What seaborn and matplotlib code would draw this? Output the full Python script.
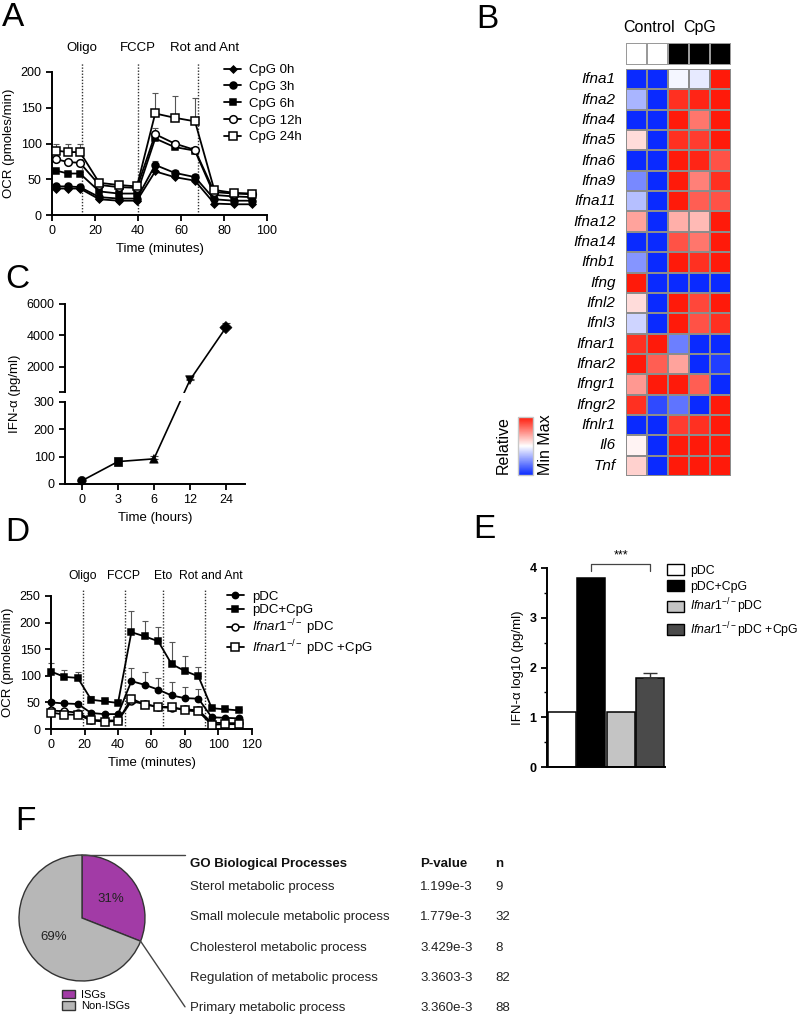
import numpy as np
import pandas as pd
import matplotlib
matplotlib.use('Agg')
import matplotlib.pyplot as plt
import matplotlib.transforms as mtransforms
from matplotlib.colors import LinearSegmentedColormap, ListedColormap
from matplotlib.patches import Patch
from matplotlib.ticker import MultipleLocator
import seaborn as sns

# ---------------- data ----------------
# A: OCR of pDC after CpG for different times
a_time = [2, 7.5, 13, 22, 31, 39.5, 48, 57, 66.5, 75.5, 84.5, 93]
a_names = ['CpG 0h', 'CpG 3h', 'CpG 6h', 'CpG 12h', 'CpG 24h']
a_0h = [37, 37, 37, 22, 20, 20, 61, 53, 48, 16, 15, 15]
a_3h = [40, 40, 39, 25, 23, 23, 70, 59, 53, 22, 20, 20]
a_6h = [62, 58, 58, 33, 30, 30, 107, 95, 90, 28, 26, 25]
a_12h = [78, 74, 73, 42, 39, 38, 113, 100, 91, 32, 30, 29]
a_24h = [90, 88, 88, 45, 42, 40, 142, 136, 131, 35, 31, 30]
a_0h_err = [2, 2, 2, 2, 2, 2, 2, 2, 2, 2, 2, 2]
a_3h_err = [4, 4, 3, 2, 2, 2, 5, 4, 4, 2, 2, 2]
a_6h_err = [2, 2, 2, 2, 2, 2, 3, 3, 3, 2, 2, 2]
a_12h_err = [3, 3, 3, 2, 2, 2, 8, 4, 3, 2, 2, 2]
a_24h_err = [10, 12, 12, 3, 2, 2, 29, 30, 32, 3, 2, 2]
a_inject_time = [14, 40, 68]
a_inject_label = ['Oligo', 'FCCP', 'Rot and Ant']
a_label_time = [14, 40, 71]

# B: relative expression heatmap
b_genes = ['Ifna1', 'Ifna2', 'Ifna4', 'Ifna5', 'Ifna6', 'Ifna9', 'Ifna11', 'Ifna12',
           'Ifna14', 'Ifnb1', 'Ifng', 'Ifnl2', 'Ifnl3', 'Ifnar1', 'Ifnar2', 'Ifngr1',
           'Ifngr2', 'Ifnlr1', 'Il6', 'Tnf']
b_samples = ['Control 1', 'Control 2', 'CpG 1', 'CpG 2', 'CpG 3']
b_group = [0, 0, 1, 1, 1]
b_values = [
    [-1.0, -1.0, -0.04, -0.1, 1.0],
    [-0.35, -1.0, 0.9, 0.95, 1.0],
    [-1.0, -1.0, 1.0, 0.6, 1.0],
    [0.15, -1.0, 0.9, 0.85, 1.0],
    [-1.0, -1.0, 1.0, 0.95, 0.75],
    [-0.55, -1.0, 1.0, 0.55, 0.9],
    [-0.3, -1.0, 1.0, 0.7, 0.75],
    [0.4, -1.0, 0.35, 0.3, 1.0],
    [-1.0, -1.0, 0.75, 0.6, 1.0],
    [-0.5, -1.0, 1.0, 0.9, 1.0],
    [1.0, -1.0, -1.0, -1.0, -1.0],
    [0.15, -1.0, 1.0, 0.8, 1.0],
    [-0.2, -1.0, 1.0, 0.75, 0.9],
    [0.9, 1.0, -0.6, -1.0, -1.0],
    [1.0, 0.7, 0.4, -1.0, -0.9],
    [0.45, 1.0, 1.0, 0.7, -1.0],
    [0.9, -0.85, -0.65, -1.0, 1.0],
    [-1.0, -1.0, 0.85, 0.9, 1.0],
    [0.05, -1.0, 1.0, 1.0, 1.0],
    [0.2, -1.0, 1.0, 1.0, 1.0],
]

# C: IFN-alpha secretion over time
c_hours = ['0', '3', '6', '12', '24']
c_ifn = [12, 82, 92, 1160, 4500]
c_err = [0, 0, 10, 60, 300]

# D: OCR of WT and Ifnar1-/- pDC
d_time = [0, 8, 16, 24, 32, 40, 48, 56, 64, 72, 80, 88, 96, 104, 112]
d_pdc = [50, 48, 47, 30, 28, 28, 90, 83, 74, 63, 58, 57, 22, 21, 20]
d_cpg = [108, 98, 96, 55, 52, 49, 182, 174, 165, 122, 109, 99, 39, 37, 35]
d_ko = [35, 33, 31, 17, 16, 16, 52, 47, 41, 40, 37, 35, 12, 11, 11]
d_ko_cpg = [31, 27, 27, 16, 14, 15, 57, 46, 42, 41, 35, 33, 8, 9, 9]
d_pdc_err = [5, 4, 4, 3, 3, 3, 25, 25, 21, 25, 21, 19, 2, 2, 2]
d_cpg_err = [17, 12, 11, 7, 5, 5, 40, 29, 26, 42, 28, 17, 3, 3, 2]
d_ko_err = [3, 3, 3, 2, 2, 2, 4, 3, 3, 3, 3, 3, 2, 2, 2]
d_ko_cpg_err = [2, 2, 2, 2, 2, 2, 3, 3, 3, 3, 3, 3, 2, 2, 2]
d_inject_time = [19, 44, 67, 92]
d_inject_label = ['Oligo', 'FCCP', 'Eto', 'Rot and Ant']
d_label_time = [19, 43, 67, 95.5]
ko = r'$\mathit{Ifnar1}^{-/-}$'
d_names = ['pDC', 'pDC+CpG', ko + ' pDC', ko + ' pDC +CpG']

# E: IFN-alpha log10
e_groups = ['pDC', 'pDC+CpG', 'Ifnar1 pDC', 'Ifnar1 pDC+CpG']
e_labels = ['pDC', 'pDC+CpG', ko + 'pDC', ko + 'pDC +CpG']
e_vals = [1.1, 3.8, 1.1, 1.78]
e_err = [0, 0, 0, 0.1]
e_colors = ['#ffffff', '#000000', '#c4c4c4', '#4a4a4a']

# F: ISG share and GO terms
f_share = [31, 69]
f_names = ['ISGs', 'Non-ISGs']
f_colors = ['#a23ba6', '#b7b7b7']
f_terms = ['Sterol metabolic process', 'Small molecule metabolic process',
           'Cholesterol metabolic process', 'Regulation of metabolic process',
           'Primary metabolic process']
f_pvalues = ['1.199e-3', '1.779e-3', '3.429e-3', '3.3603-3', '3.360e-3']
f_n = ['9', '32', '8', '82', '88']

# ---------------- style ----------------
sns.set_style('ticks')
plt.rcParams['font.family'] = ['Liberation Sans', 'DejaVu Sans']
plt.rcParams['mathtext.fontset'] = 'custom'
plt.rcParams['mathtext.rm'] = 'Liberation Sans'
plt.rcParams['mathtext.it'] = 'Liberation Sans:italic'
plt.rcParams['mathtext.bf'] = 'Liberation Sans:bold'
plt.rcParams['axes.edgecolor'] = 'black'
plt.rcParams['axes.linewidth'] = 1.4
plt.rcParams['text.color'] = 'black'
plt.rcParams['axes.labelcolor'] = 'black'
plt.rcParams['xtick.color'] = 'black'
plt.rcParams['ytick.color'] = 'black'

W, H = 800, 1018
fig = plt.figure(figsize=(W / 100, H / 100), dpi=100)


def box(x0, y0, x1, y1):
    # pixel box -> figure fraction
    return [x0 / W, 1 - y1 / H, (x1 - x0) / W, (y1 - y0) / H]


def tidy(ax):
    sns.despine(ax=ax)
    ax.tick_params(direction='out', length=4, width=1.3, labelsize=9)


def ocr_series(ax, x, y, err, name, marker, ms, fc):
    ax.errorbar(x, y, yerr=[np.zeros(len(err)), err], fmt='none', ecolor='#555555',
                elinewidth=0.8, capsize=2.5, capthick=0.8, zorder=1, clip_on=False)
    sns.lineplot(x=x, y=y, ax=ax, color='black', lw=1.3, marker=marker, markersize=ms,
                 markerfacecolor=fc, markeredgecolor='black', markeredgewidth=1.1,
                 label=name, zorder=3, clip_on=False)


def injections(ax, times, labels, label_times, top, label_y, size):
    trans = mtransforms.blended_transform_factory(ax.transData, ax.transAxes)
    for t in times:
        ax.plot([t, t], [0, top], transform=trans, color='#333333', lw=1,
                linestyle=(0, (1, 1.2)), clip_on=False, zorder=0)
    for t, lab in zip(label_times, labels):
        ax.text(t, label_y, lab, transform=trans, ha='center', va='center', fontsize=size)


# ---------------- A ----------------
axA = fig.add_axes(box(52, 72, 267, 215))
a_style = [('D', 3.5, 'black'), ('o', 5, 'black'), ('s', 5, 'black'),
           ('o', 5.5, 'white'), ('s', 6, 'white')]
for name, y, err, (mk, ms, fc) in zip(a_names, [a_0h, a_3h, a_6h, a_12h, a_24h],
                                     [a_0h_err, a_3h_err, a_6h_err, a_12h_err, a_24h_err],
                                     a_style):
    ocr_series(axA, a_time, y, err, name, mk, ms, fc)
axA.set_xlim(0, 100)
axA.set_ylim(0, 200)
axA.set_xticks([0, 20, 40, 60, 80, 100])
axA.set_yticks([0, 50, 100, 150, 200])
axA.set_xlabel('Time (minutes)', fontsize=9.5)
axA.set_ylabel('OCR (pmoles/min)', fontsize=9.5)
tidy(axA)
injections(axA, a_inject_time, a_inject_label, a_label_time, 1.063, 1.17, 9.5)
axA.legend(loc='upper left', bbox_to_anchor=(0.80, 1.055), frameon=False, fontsize=9.5,
           handlelength=1.3, handletextpad=0.6, labelspacing=0.34, borderpad=0,
           borderaxespad=0)

# ---------------- B ----------------
axG = fig.add_axes(box(626, 43, 731, 65))
axB = fig.add_axes(box(626, 69, 731, 476))
cax = fig.add_axes(box(518, 417, 533, 475))
heat_cmap = LinearSegmentedColormap.from_list('bwr2', ['#0a2aff', '#ffffff', '#ff1a0a'])
df_b = pd.DataFrame(b_values, index=b_genes, columns=b_samples)
sns.heatmap(df_b, ax=axB, cmap=heat_cmap, vmin=-1, vmax=1, linewidths=1.3,
            linecolor='#8c8c8c', cbar_ax=cax, xticklabels=False, yticklabels=True)
axB.set_yticklabels(b_genes, rotation=0, fontstyle='italic', fontsize=11)
axB.tick_params(left=False, pad=4)
axB.set_ylabel('')
cbar = axB.collections[0].colorbar
cbar.set_ticks([])
cbar.outline.set_edgecolor('#c8c8c8')
cbar.outline.set_linewidth(1)

df_g = pd.DataFrame([b_group], columns=b_samples)
sns.heatmap(df_g, ax=axG, cmap=ListedColormap(['#ffffff', '#000000']), vmin=0, vmax=1,
            cbar=False, linewidths=1.3, linecolor='#9a9a9a', xticklabels=False,
            yticklabels=False)
g_trans = mtransforms.blended_transform_factory(axG.transData, axG.transAxes)
n_ctrl = b_group.count(0)
axG.text(n_ctrl / 2 + 0.1, 1.7, 'Control', transform=g_trans, ha='center', va='center',
         fontsize=11.5)
axG.text(n_ctrl + (len(b_group) - n_ctrl) / 2, 1.7, 'CpG', transform=g_trans,
         ha='center', va='center', fontsize=11.5)
fig.text(503 / W, 1 - 445 / H, 'Relative', rotation=90, ha='center', va='center', fontsize=11.5)
fig.text(545 / W, 1 - 445 / H, 'Min Max', rotation=90, ha='center', va='center', fontsize=11.5)

# ---------------- C ----------------
def c_fwd(v):
    v = np.asarray(v, dtype=float)
    return np.where(v <= 300, v * 82 / 300,
                    np.where(v <= 400, 82 + (v - 300) * 10 / 100, 92 + (v - 400) * 88 / 5600))


def c_inv(u):
    u = np.asarray(u, dtype=float)
    return np.where(u <= 82, u * 300 / 82,
                    np.where(u <= 92, 300 + (u - 82) * 10, 400 + (u - 92) * 5600 / 88))


axC = fig.add_axes(box(65, 304, 245, 484))
axC.set_yscale('function', functions=(c_fwd, c_inv))
c_pos = np.arange(len(c_hours))
c_mask = np.array(c_err) > 0
axC.errorbar(c_pos[c_mask], np.array(c_ifn)[c_mask],
             yerr=[np.zeros(c_mask.sum()), np.array(c_err)[c_mask]], fmt='none',
             ecolor='#444444', elinewidth=0.8, capsize=3, capthick=0.8, zorder=1)
sns.lineplot(x=c_pos, y=c_ifn, ax=axC, color='black', lw=1.2, zorder=2)
sns.scatterplot(x=c_pos, y=c_ifn, style=c_hours,
                markers={'0': 'o', '3': 's', '6': '^', '12': 'v', '24': 'D'},
                color='black', edgecolor='black', s=38, ax=axC, legend=False, zorder=4,
                clip_on=False)
axC.axhspan(310, 390, xmin=-0.04, xmax=1, color='white', zorder=3, clip_on=False, lw=0)
axC.set_xlim(-0.47, 4.53)
axC.set_ylim(0, 6000)
axC.set_xticks(c_pos)
axC.set_xticklabels(c_hours)
axC.set_yticks([0, 100, 200, 300, 400, 2000, 4000, 6000])
axC.set_yticklabels(['0', '100', '200', '300', '', '2000', '4000', '6000'])
axC.yaxis.set_minor_locator(plt.NullLocator())
axC.set_xlabel('Time (hours)', fontsize=9.5)
axC.set_ylabel('IFN-α (pg/ml)', fontsize=9.5)
tidy(axC)

# ---------------- D ----------------
axD = fig.add_axes(box(51, 596, 252, 729))
d_style = [('o', 4.5, 'black'), ('s', 5, 'black'), ('o', 5, 'white'), ('s', 5.5, 'white')]
for name, y, err, (mk, ms, fc) in zip(d_names, [d_pdc, d_cpg, d_ko, d_ko_cpg],
                                     [d_pdc_err, d_cpg_err, d_ko_err, d_ko_cpg_err], d_style):
    ocr_series(axD, d_time, y, err, name, mk, ms, fc)
axD.set_xlim(0, 120)
axD.set_ylim(0, 250)
axD.set_xticks([0, 20, 40, 60, 80, 100, 120])
axD.set_yticks([0, 50, 100, 150, 200, 250])
axD.set_xlabel('Time (minutes)', fontsize=9.5)
axD.set_ylabel('OCR (pmoles/min)', fontsize=9.5)
tidy(axD)
injections(axD, d_inject_time, d_inject_label, d_label_time, 1.045, 1.15, 8.7)
axD.legend(loc='upper left', bbox_to_anchor=(0.875, 1.04), frameon=False, fontsize=9.5,
           handlelength=1.3, handletextpad=0.6, labelspacing=0.08, borderpad=0,
           borderaxespad=0)

# ---------------- E ----------------
axE = fig.add_axes(box(547, 568, 665, 767))
sns.barplot(x=e_groups, y=e_vals, hue=e_groups, palette=e_colors, ax=axE, width=0.95,
            edgecolor='black', linewidth=1.1, legend=False)
e_mask = np.array(e_err) > 0
axE.errorbar(np.arange(len(e_groups))[e_mask], np.array(e_vals)[e_mask],
             yerr=[np.zeros(e_mask.sum()), np.array(e_err)[e_mask]], fmt='none',
             ecolor='#333333', elinewidth=1, capsize=5, capthick=1)
axE.set_xlim(-0.5, 3.5)
axE.set_ylim(0, 4)
axE.set_xticks([])
axE.set_yticks([0, 1, 2, 3, 4])
axE.yaxis.set_minor_locator(MultipleLocator(0.5))
axE.tick_params(axis='y', which='minor', length=2, width=1)
tidy(axE)
for lbl in axE.get_yticklabels():
    lbl.set_fontweight('bold')
axE.set_ylabel('IFN-α log10 (pg/ml)', fontsize=9.5)
top = max(e_vals) + 0.28
axE.plot([1, 1, 3, 3], [top - 0.14, top, top, top - 0.14], color='#444444', lw=0.9,
         clip_on=False)
axE.text(2, top + 0.17, '***', ha='center', va='center', fontsize=9)
axE.legend(handles=[Patch(facecolor=c, edgecolor='black', lw=1) for c in e_colors],
           labels=e_labels, loc='upper left', bbox_to_anchor=(1.015, 1.02), frameon=False,
           fontsize=8.8, handlelength=1.4, handleheight=1.0, handletextpad=0.5,
           labelspacing=0.3, borderpad=0, borderaxespad=0)

# ---------------- F ----------------
axF = fig.add_axes(box(19, 855, 145, 981))
wedges, _, autotexts = axF.pie(f_share, colors=f_colors, startangle=90, counterclock=False,
                               autopct=lambda p: f'{p:.0f}%', pctdistance=0.55,
                               wedgeprops=dict(edgecolor='#333333', linewidth=1),
                               textprops=dict(fontsize=9.5, color='#222222'))
axF.set_xlim(-1, 1)
axF.set_ylim(-1, 1)
axF.set_aspect('equal')
edge = np.deg2rad(wedges[0].theta1)
axF.plot([0, 1.635], [1, 1], color='#444444', lw=1, clip_on=False)
axF.plot([np.cos(edge), 1.635], [np.sin(edge), -1.41], color='#444444', lw=1, clip_on=False)
axF.legend(wedges, f_names, loc='upper left', bbox_to_anchor=(0.34, -0.07), frameon=False,
           fontsize=8, handlelength=1.2, handleheight=0.8, handletextpad=0.5,
           labelspacing=0.1, borderpad=0, borderaxespad=0)

fig.text(190 / W, 1 - 864 / H, 'GO Biological Processes', fontsize=9.5, fontweight='bold',
         va='center', color='#111111')
fig.text(420 / W, 1 - 864 / H, 'P-value', fontsize=9.5, fontweight='bold', va='center',
         color='#111111')
fig.text(495 / W, 1 - 864 / H, 'n', fontsize=9.5, fontweight='bold', va='center',
         color='#111111')
for i, (term, p, n) in enumerate(zip(f_terms, f_pvalues, f_n)):
    y = 1 - (887 + i * 30.3) / H
    fig.text(190 / W, y, term, fontsize=9.5, va='center', color='#222222')
    fig.text(420 / W, y, p, fontsize=9.5, va='center', color='#222222')
    fig.text(495 / W, y, n, fontsize=9.5, va='center', color='#222222')

# panel letters
for letter, (px, py) in zip('ABCDEF', [(2, 2), (476, 4), (5, 264), (5, 517), (473, 514),
                                       (15, 806)]):
    fig.text(px / W, 1 - py / H, letter, fontsize=24, va='top', ha='left')

fig.savefig('out.png', dpi=100)
